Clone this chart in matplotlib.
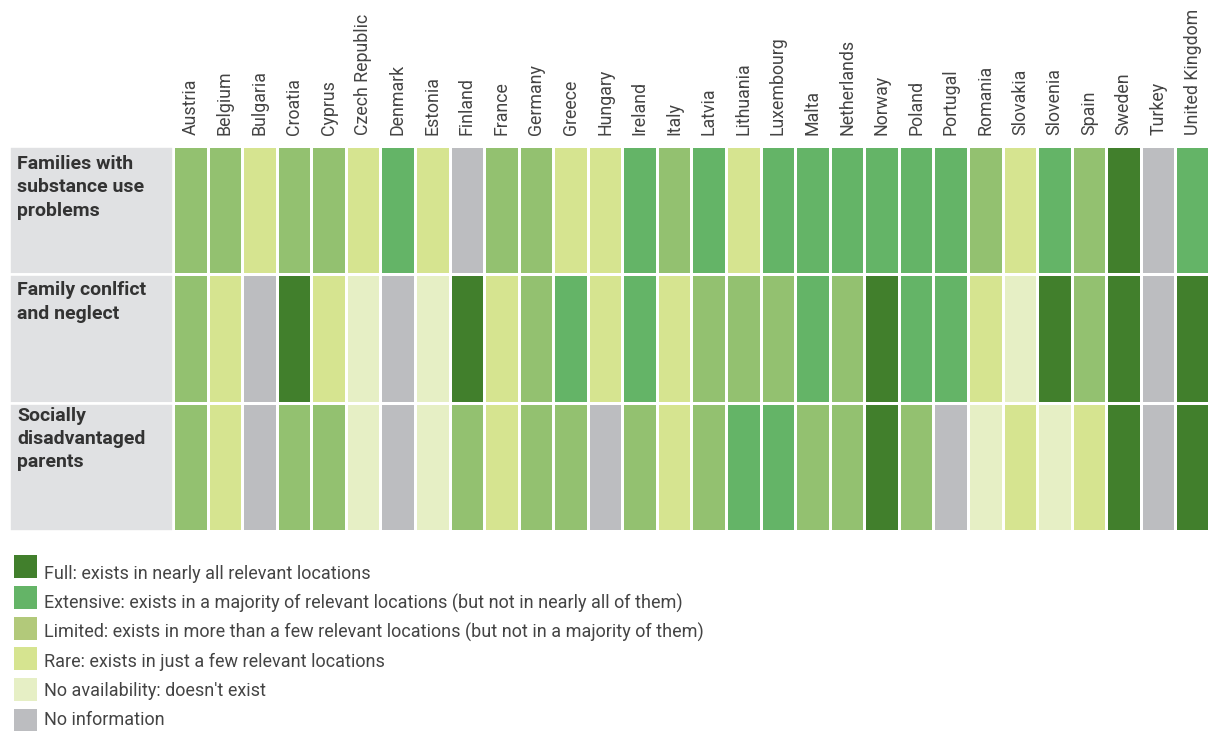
import numpy as np
import matplotlib.pyplot as plt
from matplotlib.colors import ListedColormap, BoundaryNorm

plt.rcParams['font.family'] = ['Roboto', 'DejaVu Sans']

countries = ["Austria", "Belgium", "Bulgaria", "Croatia", "Cyprus", "Czech Republic",
             "Denmark", "Estonia", "Finland", "France", "Germany", "Greece", "Hungary",
             "Ireland", "Italy", "Latvia", "Lithuania", "Luxembourg", "Malta",
             "Netherlands", "Norway", "Poland", "Portugal", "Romania", "Slovakia",
             "Slovenia", "Spain", "Sweden", "Turkey", "United Kingdom"]

row_labels = ["Families with\nsubstance use\nproblems",
              "Family conlfict\nand neglect",
              "Socially\ndisadvantaged\nparents"]

# 5 full, 4 extensive, 3 limited, 2 rare, 1 no availability, 0 no information
substance_use = [3, 3, 2, 3, 3, 2, 4, 2, 0, 3, 3, 2, 2, 4, 3, 4, 2, 4, 4, 4,
                 4, 4, 4, 3, 2, 4, 3, 5, 0, 4]
conflict_neglect = [3, 2, 0, 5, 2, 1, 0, 1, 5, 2, 3, 4, 2, 4, 2, 3, 3, 3, 4, 3,
                    5, 4, 4, 2, 1, 5, 3, 5, 0, 5]
disadvantaged = [3, 2, 0, 3, 3, 1, 0, 1, 3, 2, 3, 3, 0, 3, 2, 3, 4, 4, 3, 3,
                 5, 3, 0, 1, 2, 1, 2, 5, 0, 5]

level_colors = ["#bcbdc0", "#e6efc5", "#d6e490", "#93c170", "#64b467", "#417f2c"]
legend_colors = ["#417f2c", "#64b467", "#b2c97a", "#d6e490", "#e6efc5", "#bcbdc0"]
legend_labels = ["Full: exists in nearly all relevant locations",
                 "Extensive: exists in a majority of relevant locations (but not in nearly all of them)",
                 "Limited: exists in more than a few relevant locations (but not in a majority of them)",
                 "Rare: exists in just a few relevant locations",
                 "No availability: doesn't exist",
                 "No information"]

W, H = 1208, 731
fig = plt.figure(figsize=(W / 100, H / 100), dpi=100)


def px_axes(x0, y0, x1, y1):
    return fig.add_axes([x0 / W, 1 - y1 / H, (x1 - x0) / W, (y1 - y0) / H])


# heatmap
grid = np.array([substance_use, conflict_neglect, disadvantaged])
cmap = ListedColormap(level_colors)
norm = BoundaryNorm(np.arange(-0.5, 6.5, 1), cmap.N)

ax = px_axes(173, 146, 1210, 531)
ax.pcolormesh(np.arange(len(countries) + 1) - 0.5, np.arange(4) - 0.5, grid,
              cmap=cmap, norm=norm, edgecolors="white", linewidth=1.9)
ax.set_xlim(-0.5, len(countries) - 0.5)
ax.set_ylim(2.5, -0.5)
ax.xaxis.tick_top()
ax.set_xticks(range(len(countries)), countries, rotation=90, fontsize=12.8, color="#444444")
ax.set_yticks([])
ax.tick_params(length=0, pad=8)
for s in ax.spines.values():
    s.set_visible(False)

# row label panel
lax = px_axes(9, 146, 173, 531)
lax.barh(range(3), 1, height=1, left=0, color="#e0e1e3", edgecolor="white", linewidth=1.9)
label_shift = [0.43, 0.445, 0.47]   # text starts a little higher in the lower rows
for i, lab in enumerate(row_labels):
    lax.text(0.05, i - label_shift[i], lab, fontsize=14, fontweight="bold", color="#333333",
             va="top", ha="left", linespacing=1.38)
lax.set_xlim(0, 1)
lax.set_ylim(2.5, -0.5)
lax.axis("off")

# legend
gax = px_axes(0, 545, W, H)
gax.set_xlim(0, W)
gax.set_ylim(H - 545, 0)
for k, (c, lab) in enumerate(zip(legend_colors, legend_labels)):
    top = 10 + 30.8 * k
    gax.bar(25, 23, width=23, bottom=top, color=c, align="center")
    gax.text(44, 29 + 29.2 * k, lab, fontsize=13, color="#444444", va="center", ha="left")
gax.axis("off")

fig.savefig("out.png", dpi=100, facecolor="white")
